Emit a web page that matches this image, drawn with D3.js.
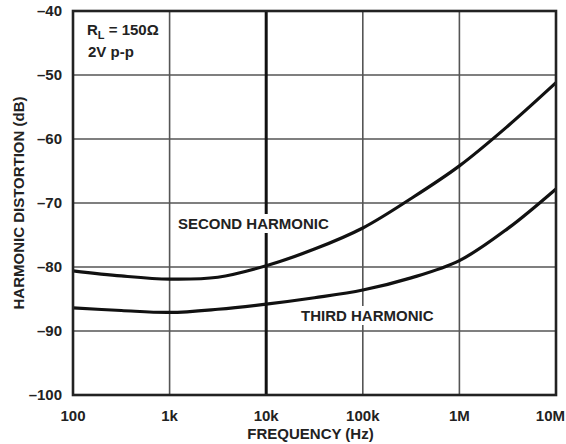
<!DOCTYPE html>
<html>
<head>
<meta charset="utf-8">
<script src="https://cdn.jsdelivr.net/npm/d3@7"></script>
<style>
  body { margin: 0; background: #fff; }
  text { font-family: "Liberation Sans", Arial, sans-serif; font-weight: bold; fill: #222; }
</style>
</head>
<body>
<div class="canvas"></div>
<script>
// frequencies (Hz), half-decade steps
const freqs = [100, 316, 1000, 3160, 10000, 31600, 100000, 316000, 1000000, 3160000, 10000000];
// distortion values (dB)
const secondHarmonic = [-80.6, -81.4, -81.9, -81.6, -79.8, -77.2, -73.9, -69.3, -64.2, -58.0, -51.2];
const thirdHarmonic = [-86.4, -86.8, -87.1, -86.6, -85.8, -84.8, -83.6, -81.7, -79.0, -74.0, -67.8];

const xTicks = [100, 1000, 10000, 100000, 1000000, 10000000];
const xTickLabels = ['100', '1k', '10k', '100k', '1M', '10M'];
const yTicks = [-40, -50, -60, -70, -80, -90, -100];

const dims = { width: 566, height: 444 };
const plot = { left: 73, right: 556, top: 11, bottom: 395 };

const svg = d3
  .select('.canvas')
  .append('svg')
  .attr('width', dims.width)
  .attr('height', dims.height);

const x = d3.scaleLog().domain([100, 1e7]).range([plot.left, plot.right]);
const y = d3.scaleLinear().domain([-100, -40]).range([plot.bottom, plot.top]);

//grid lines
const grid = svg.append('g');

grid
  .selectAll('line.h')
  .data(yTicks.slice(1, -1))
  .enter()
  .append('line')
  .attr('x1', plot.left)
  .attr('x2', plot.right)
  .attr('y1', (d) => y(d))
  .attr('y2', (d) => y(d))
  .attr('stroke', '#555')
  .attr('stroke-width', 1.6);

grid
  .selectAll('line.v')
  .data(xTicks.slice(1, -1))
  .enter()
  .append('line')
  .attr('x1', (d) => x(d))
  .attr('x2', (d) => x(d))
  .attr('y1', plot.top)
  .attr('y2', plot.bottom)
  .attr('stroke', (d) => (d === 10000 ? '#111' : '#555'))
  .attr('stroke-width', (d) => (d === 10000 ? 3 : 1.6));

//labels inside plot (with white knockout behind)
const notes = [
  { text: 'SECOND HARMONIC', x: 178, y: 229 },
  { text: 'THIRD HARMONIC', x: 301, y: 321 },
];

notes.forEach((n) => {
  const t = svg
    .append('text')
    .attr('x', n.x)
    .attr('y', n.y)
    .attr('font-size', 15)
    .text(n.text);
  const bb = t.node().getBBox();
  svg
    .insert('rect', 'text')
    .attr('x', bb.x - 3)
    .attr('y', bb.y - 1)
    .attr('width', bb.width + 6)
    .attr('height', bb.height + 2)
    .attr('fill', '#fff');
});

const rl = svg.append('text').attr('x', 87).attr('y', 35).attr('font-size', 15);
rl.append('tspan').text('R');
rl.append('tspan').attr('font-size', 11).attr('dy', 4).text('L');
rl.append('tspan').attr('dy', -4).text(' = 150Ω');

svg.append('text').attr('x', 88).attr('y', 57).attr('font-size', 15).text('2V p-p');

//curves
const line = d3
  .line()
  .x((d) => x(d[0]))
  .y((d) => y(d[1]))
  .curve(d3.curveCatmullRom.alpha(0.5));

[secondHarmonic, thirdHarmonic].forEach((series) => {
  svg
    .append('path')
    .attr('d', line(freqs.map((f, i) => [f, series[i]])))
    .attr('fill', 'none')
    .attr('stroke', '#111')
    .attr('stroke-width', 3.2);
});

//frame
svg
  .append('rect')
  .attr('x', plot.left)
  .attr('y', plot.top)
  .attr('width', plot.right - plot.left)
  .attr('height', plot.bottom - plot.top)
  .attr('fill', 'none')
  .attr('stroke', '#222')
  .attr('stroke-width', 2.6);

//axes tick labels
svg
  .selectAll('text.ylab')
  .data(yTicks)
  .enter()
  .append('text')
  .attr('x', 62)
  .attr('y', (d) => y(d) + 5)
  .attr('text-anchor', 'end')
  .attr('font-size', 15)
  .text((d) => '\u2013' + Math.abs(d));

svg
  .selectAll('text.xlab')
  .data(xTicks)
  .enter()
  .append('text')
  .attr('x', (d, i) => (i === xTicks.length - 1 ? dims.width - 1 : x(d)))
  .attr('y', 421)
  .attr('text-anchor', (d, i) => (i === xTicks.length - 1 ? 'end' : 'middle'))
  .attr('font-size', 15)
  .text((d, i) => xTickLabels[i]);

svg
  .append('text')
  .attr('x', (plot.left + plot.right) / 2 - 4)
  .attr('y', 439)
  .attr('text-anchor', 'middle')
  .attr('font-size', 15)
  .text('FREQUENCY (Hz)');

svg
  .append('text')
  .attr('transform', `translate(24, ${(plot.top + plot.bottom) / 2}) rotate(-90)`)
  .attr('text-anchor', 'middle')
  .attr('font-size', 15)
  .text('HARMONIC DISTORTION (dB)');
</script>
</body>
</html>
